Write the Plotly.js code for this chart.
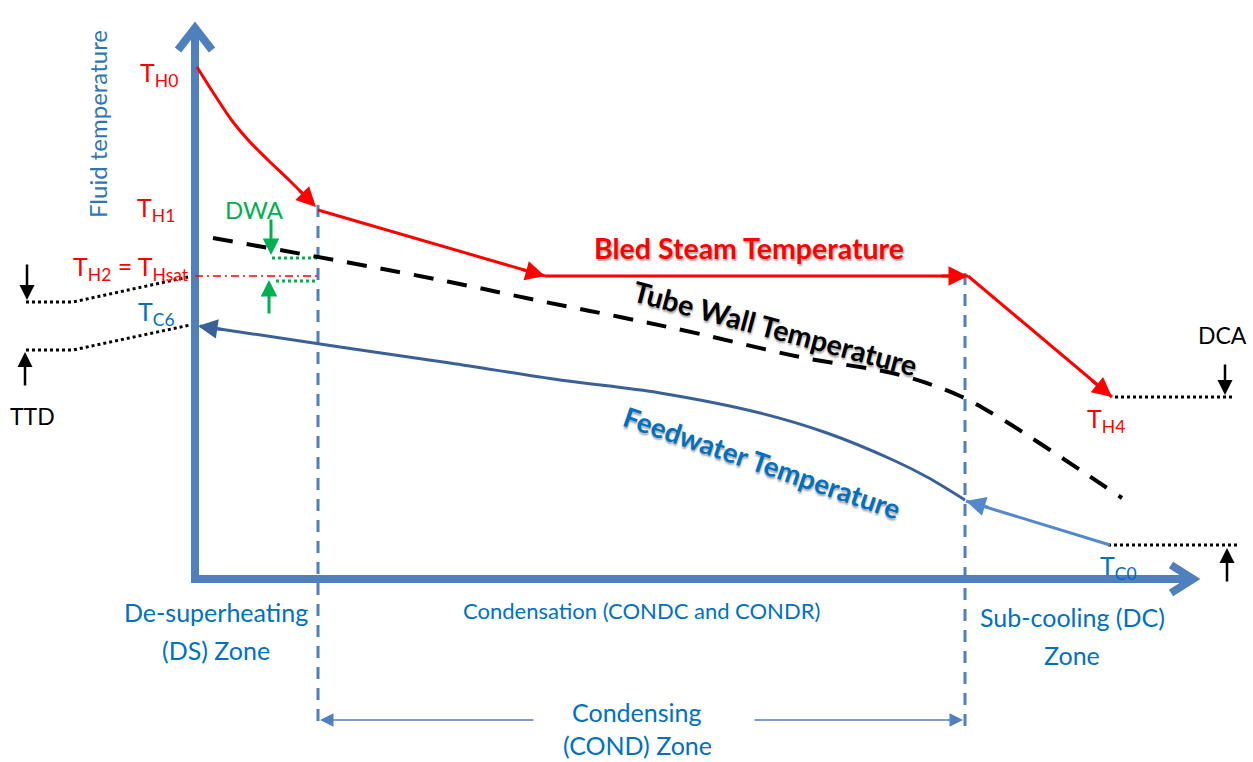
<!DOCTYPE html>
<html><head><meta charset="utf-8">
<script src="https://cdn.plot.ly/plotly-3.0.1.min.js"></script>
<style>html,body{margin:0;padding:0;background:#fff}#c{width:1253px;height:762px}</style>
</head><body><div id="c"></div>
<script>
// Schematic coordinates (x: position along heater, y: drawing units, larger = lower temperature)
const bledCurveX = [197, 207, 218, 233, 250, 268, 290, 313];
const bledCurveY = [67, 83, 100, 122, 142, 160, 181, 204];
const bledX = [318, 545, 968];
const bledY = [210, 276, 276];
const bledDropX = [968, 1112];
const bledDropY = [276, 397];
const wallX = [213, 340, 450, 545, 620, 700, 800, 900, 960, 1000, 1050, 1122];
const wallY = [238, 261, 282, 302, 317, 334, 357, 375, 396, 418, 450, 498];
const feedX = [965, 927, 893, 827, 760, 660, 560, 450, 340, 200];
const feedY = [500, 477, 460, 433, 413, 393, 380, 363, 347, 326];
const subX = [1110, 966];
const subY = [545, 501];
const satX = [195, 318];
const satY = [276, 276];
const zoneX = [318, 965];
const zoneTop = [205, 273];
const zoneBottom = [722, 732];
const ttdUpperX = [26, 73, 188];
const ttdUpperY = [302, 302, 277];
const ttdLowerX = [26, 73, 190];
const ttdLowerY = [350, 350, 325];
const dcaX = [1115, 1233];
const dcaY = [397, 545];
const dwaX = [272, 318];
const dwaY = [258, 281];
const axisOrigin = [195, 579];
const axisEnd = [1193, 28];

const red = '#FF0000', blue = '#4F7FBD', dark = '#3A6197', light = '#5389CC', txtBlue = '#0070C0', green = '#00B050';
const FONT = 'Lato, "Open Sans", sans-serif';
const SHADOW = '1px 2px 2px rgba(0,0,0,0.35)';

const traces = [];
function line(x, y, color, width, dash, shape) {
  traces.push({x: x, y: y, mode: 'lines', line: {color: color, width: width, dash: dash || 'solid', shape: shape || 'linear', smoothing: 1}, hoverinfo: 'skip', showlegend: false});
}
// axes
line([axisOrigin[0], axisOrigin[0]], [axisOrigin[1] + 4, axisEnd[1] + 2], blue, 8);
line([axisOrigin[0] - 4, axisEnd[0] - 2], [axisOrigin[1], axisOrigin[1]], blue, 8);
line([axisOrigin[0] - 17, axisOrigin[0], axisOrigin[0] + 17], [axisEnd[1] + 22, axisEnd[1], axisEnd[1] + 22], blue, 8);
line([axisEnd[0] - 22, axisEnd[0], axisEnd[0] - 22], [axisOrigin[1] - 14, axisOrigin[1], axisOrigin[1] + 14], blue, 8);
// zone boundaries
line([zoneX[0], zoneX[0]], [zoneTop[0], zoneBottom[0]], blue, 3, '12px,9px');
line([zoneX[1], zoneX[1]], [zoneTop[1], zoneBottom[1]], blue, 3, '12px,9px');
// saturation dash-dot
line(satX, satY, red, 1.3, '8px,4px,2px,4px');
// TTD / DCA dotted
line(ttdUpperX, ttdUpperY, '#000', 3, 'dot');
line(ttdLowerX, ttdLowerY, '#000', 3, 'dot');
line(dcaX, [dcaY[0], dcaY[0]], '#000', 3, 'dot');
line([dcaX[0] - 7, dcaX[1] + 4], [dcaY[1], dcaY[1]], '#000', 3, 'dot');
// DWA dotted
line(dwaX, [dwaY[0], dwaY[0]], green, 3, 'dot');
line([dwaX[0] + 4, dwaX[1]], [dwaY[1], dwaY[1]], green, 3, 'dot');
// tube wall
line(wallX, wallY, '#000', 4, '20px,14px', 'spline');
// bled steam
line(bledCurveX, bledCurveY, red, 3, 'solid', 'spline');
line(bledX.slice(0, 2), bledY.slice(0, 2), red, 3);
line(bledX.slice(1), bledY.slice(1), red, 3);
line(bledDropX, bledDropY, red, 3);
// feedwater
line(feedX, feedY, dark, 3, 'solid', 'spline');
line(subX, subY, light, 3);

const ann = [];
function arrow(x, y, ax, ay, color, width, size) {
  ann.push({x: x, y: y, ax: ax, ay: ay, xref: 'x', yref: 'y', axref: 'x', ayref: 'y', text: '', showarrow: true, arrowhead: 2, arrowsize: size || 1, arrowwidth: width, arrowcolor: color, standoff: 0, startstandoff: 0});
}
function label(x, y, text, color, size, opts) {
  const o = Object.assign({}, opts || {});
  const shadow = o.shadow; delete o.shadow;
  const font = {family: FONT, size: size, color: color};
  if (shadow) font.shadow = SHADOW;
  ann.push(Object.assign({x: x, y: y, xref: 'x', yref: 'y', text: text, showarrow: false, font: font}, o));
}
// arrow heads on curves
arrow(316, 207, 298, 189, red, 3, 1.3);
arrow(545, 276, 520, 269, red, 3, 1.3);
arrow(968, 276, 940, 276, red, 3, 1.3);
arrow(1112, 397, 1090, 379, red, 3, 1.3);
arrow(198, 326, 225, 330, dark, 3, 1.3);
arrow(966, 501, 990, 508, light, 3, 1.3);
// black markers
arrow(27, 300, 27, 263, '#000', 2.5, 1.2);
arrow(25, 352, 25, 387, '#000', 2.5, 1.2);
arrow(1225, 395, 1225, 363, '#000', 2.5, 1.2);
arrow(1227, 548, 1227, 583, '#000', 2.5, 1.2);
// DWA arrows
arrow(271, 255, 271, 218, green, 3, 1.1);
arrow(269, 280, 269, 315, green, 3, 1.1);
// condensing zone span
arrow(320, 720, 535, 720, blue, 1.5, 1.8);
arrow(963, 720, 753, 720, blue, 1.5, 1.8);

// labels
label(97, 124, 'Fluid temperature', '#2E75B6', 24, {textangle: -90});
label(159, 74, 'T<sub>H0</sub>', red, 25);
label(156, 209, 'T<sub>H1</sub>', red, 25);
label(254, 209, 'DWA', green, 24);
label(131, 268, 'T<sub>H2</sub> = T<sub>Hsat</sub>', red, 25);
label(156, 313, 'T<sub>C6</sub>', txtBlue, 25);
label(32, 416, 'TTD', '#000', 23);
label(749, 248, '<b>Bled Steam Temperature</b>', red, 28.5, {shadow: true});
label(775, 328, '<b>Tube Wall Temperature</b>', '#000', 28.5, {textangle: 15, shadow: true});
label(762, 462, '<b>Feedwater Temperature</b>', txtBlue, 27.5, {textangle: 19, shadow: true});
label(1106, 420, 'T<sub>H4</sub>', red, 25);
label(1222, 335, 'DCA', '#000', 23);
label(1118, 567, 'T<sub>C0</sub>', txtBlue, 25);
label(216, 612, 'De-superheating', txtBlue, 25);
label(216, 650, '(DS) Zone', txtBlue, 25);
label(641, 610, 'Condensation (CONDC and CONDR)', txtBlue, 22);
label(1072, 617, 'Sub-cooling (DC)', txtBlue, 25);
label(1072, 655, 'Zone', txtBlue, 25);
label(637, 712, 'Condensing', txtBlue, 25);
label(637, 745, '(COND) Zone', txtBlue, 25);

Plotly.newPlot('c', traces, {
  width: 1253, height: 762, margin: {l: 0, r: 0, t: 0, b: 0},
  paper_bgcolor: '#fff', plot_bgcolor: '#fff',
  xaxis: {range: [0, 1253], visible: false, fixedrange: true},
  yaxis: {range: [762, 0], visible: false, fixedrange: true},
  annotations: ann, showlegend: false
}, {staticPlot: true});
</script></body></html>
